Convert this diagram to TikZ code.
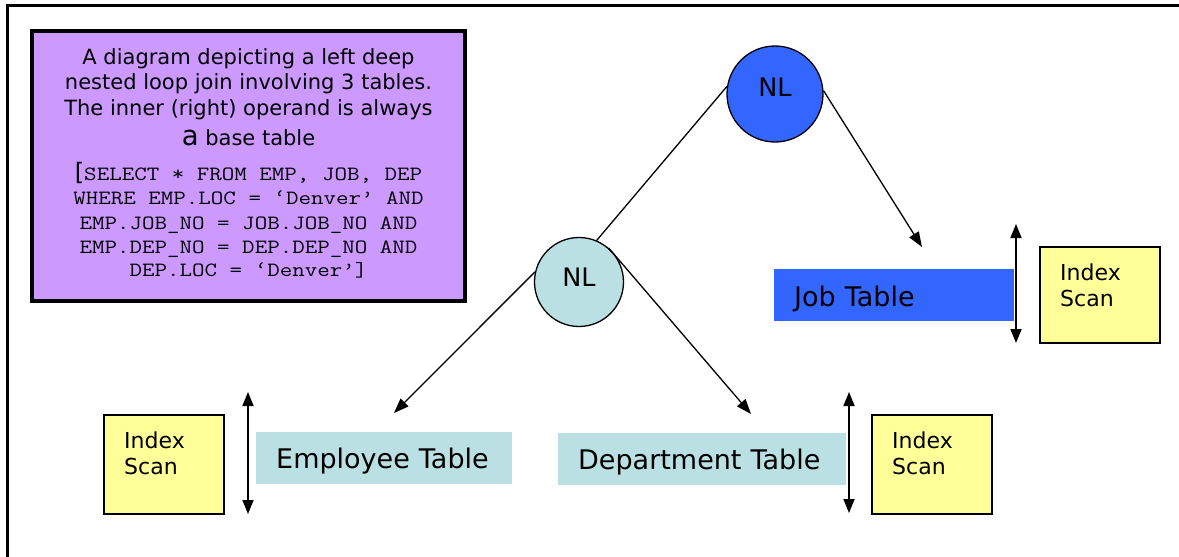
\documentclass[tikz,border=0pt]{standalone}
\usepackage{fontspec}
\setmainfont{DejaVu Sans}
\newfontfamily\sqlmono[FakeStretch=1.2]{Latin Modern Mono}
\usetikzlibrary{arrows.meta}

\definecolor{lilac}{HTML}{CC99FF}
\definecolor{nlblue}{HTML}{3366FF}
\definecolor{palecyan}{HTML}{BBE0E3}
\definecolor{paleyellow}{HTML}{FFFF99}

\newcommand\notefont{\fontsize{21}{25.5}\selectfont}
\newcommand\sqlfont{\fontsize{20.25}{24}\selectfont\sqlmono}

\begin{document}
\begin{tikzpicture}[x=1pt,y=-1pt,
  pageframe/.style={line width=3pt},
  notebox/.style={draw, line width=4pt, fill=lilac, minimum width=433pt,
    minimum height=270pt, inner sep=0pt},
  notetext/.style={align=center, inner sep=0pt, font=\notefont, yshift=3pt},
  joinnode/.style={circle, draw, line width=1.3pt, inner sep=0pt},
  nltext/.style={font=\fontsize{25.5}{30}\selectfont, inner sep=0pt},
  tablebox/.style={rectangle, anchor=west, align=left, inner xsep=20pt,
    inner ysep=0pt, minimum height=52pt, text height=22.4pt, text depth=0pt,
    font=\fontsize{27}{31}\selectfont},
  scanbox/.style={draw, line width=2pt, fill=paleyellow, minimum width=120pt},
  scantext/.style={anchor=north west, align=left, inner sep=0pt,
    font=\fontsize{22}{26}\selectfont, xshift=21pt, yshift=-18pt},
  treeline/.style={line width=1.3pt},
  treearrow/.style={treeline, -{Triangle[length=15pt,width=11pt]}},
  scanrange/.style={line width=1.8pt,
    {Triangle[length=14pt,width=11pt]}-{Triangle[length=14pt,width=11pt]}}]

\useasboundingbox (0,0) rectangle (1179,557);

% page frame: top and left rules only
\draw[pageframe] (7.5,557) -- (7.5,5.5) -- (1179,5.5);

% description box
\node[notebox, label={[notetext]center:{%
  \notefont A diagram depicting a left deep\\
  \notefont nested loop join involving 3 tables.\\
  \notefont The inner (right) operand is always\\[4.5pt]
  \notefont{\fontsize{27.5}{30}\selectfont a} base table\\[9.5pt]
  \sqlfont{\rmfamily\fontsize{24}{24}\selectfont[}SELECT * FROM EMP, JOB, DEP\\[-1pt]
  \sqlfont WHERE EMP.LOC = ‘Denver’ AND\\[-1pt]
  \sqlfont EMP.JOB\_NO = JOB.JOB\_NO AND\\[-1pt]
  \sqlfont EMP.DEP\_NO = DEP.DEP\_NO AND\\[-3pt]
  \sqlfont DEP.LOC = ‘Denver’]}}] (note) at (248.5,166) {};

% join operators
\node[joinnode, fill=nlblue, minimum size=96pt,
  label={[nltext, yshift=7pt]center:NL}] (nl1) at (775,94) {};
\node[joinnode, fill=palecyan, minimum size=89pt,
  label={[nltext, yshift=5pt]center:NL}] (nl2) at (579,282) {};

% base tables
\node[tablebox, fill=nlblue, text width=200pt] (job) at (774,295) {Job Table};
\node[tablebox, fill=palecyan, text width=216pt] (emp) at (256,457.5) {Employee Table};
\node[tablebox, fill=palecyan, text width=248pt] (dep) at (558,458.5) {Department Table};

% index scan boxes
\node[scanbox, minimum height=96pt,
  label={[scantext]north west:Index\\Scan}] (scanjob) at (1100,295) {};
\node[scanbox, minimum height=99pt,
  label={[scantext]north west:Index\\Scan}] (scanemp) at (164,464.5) {};
\node[scanbox, minimum height=99pt,
  label={[scantext]north west:Index\\Scan}] (scandep) at (932,464.5) {};

% free ends of the arrows and of the scan ranges
\coordinate (jobtip) at (922,247);
\coordinate (emptip) at (394,413);
\coordinate (deptip) at (751,414);
\coordinate (jobtop) at (1016,224);
\coordinate (jobbot) at (1016,343);
\coordinate (emptop) at (248,392);
\coordinate (empbot) at (248,514);
\coordinate (deptop) at (849,392);
\coordinate (depbot) at (849,513);

% tree edges
\draw[treeline] (nl1.171) -- (nl2.67);
\draw[treearrow] (nl1.4) -- (jobtip);
\draw[treearrow] (nl2.167) -- (emptip);
\draw[treearrow] (nl2.49) -- (deptip);

% scan ranges
\draw[scanrange] (jobtop) -- (jobbot);
\draw[scanrange] (emptop) -- (empbot);
\draw[scanrange] (deptop) -- (depbot);
\end{tikzpicture}
\end{document}
